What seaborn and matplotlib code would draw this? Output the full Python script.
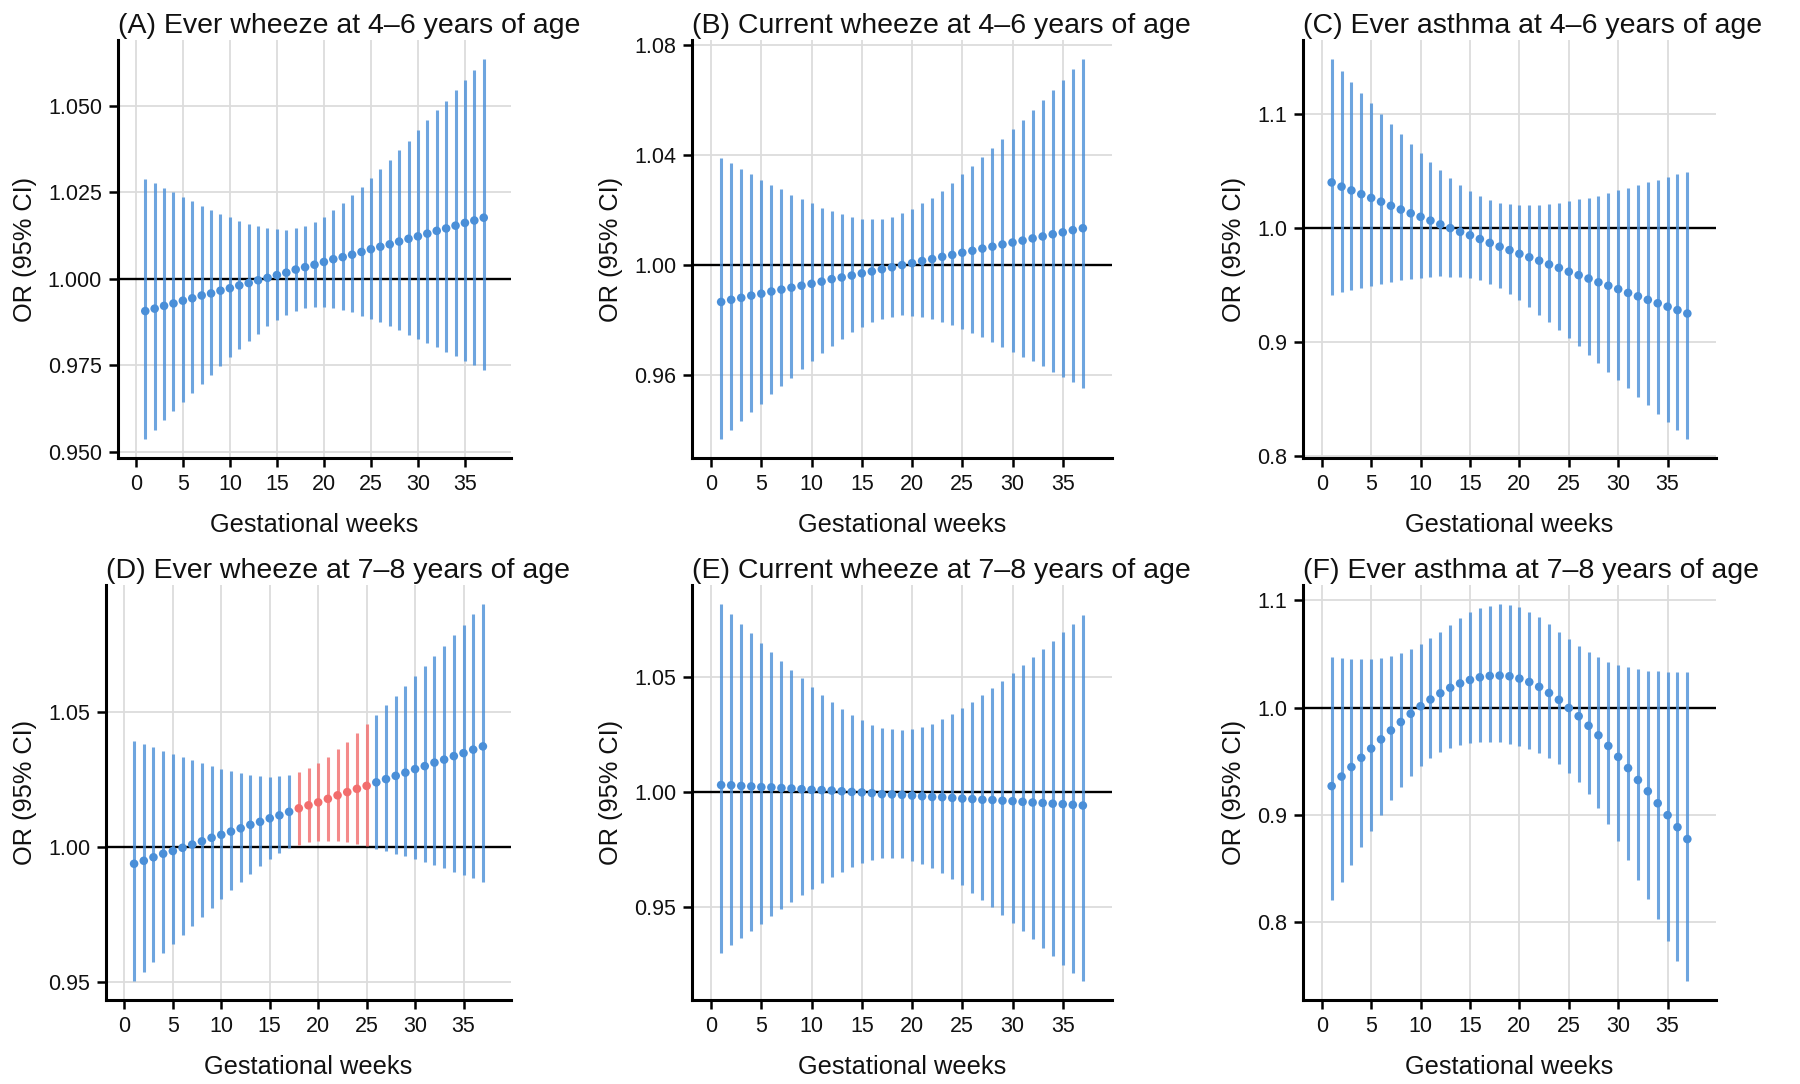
import numpy as np
import pandas as pd
import matplotlib
matplotlib.use("Agg")
import matplotlib.pyplot as plt
import seaborn as sns

weeks = list(range(1, 38))

# (A) Ever wheeze at 4-6 years
a_or = [0.9907, 0.9914, 0.9922, 0.9929, 0.9937, 0.9944, 0.9952, 0.9958, 0.9966, 0.9973,
        0.9981, 0.9988, 0.9996, 1.0003, 1.0011, 1.0018, 1.0027, 1.0034, 1.0041, 1.0049,
        1.0057, 1.0063, 1.0070, 1.0078, 1.0086, 1.0093, 1.0100, 1.0108, 1.0116, 1.0123,
        1.0131, 1.0139, 1.0146, 1.0154, 1.0162, 1.0169, 1.0177]
a_hi = [1.0289, 1.0277, 1.0263, 1.0250, 1.0237, 1.0224, 1.0212, 1.0200, 1.0189, 1.0178,
        1.0168, 1.0160, 1.0152, 1.0147, 1.0143, 1.0142, 1.0146, 1.0153, 1.0165, 1.0180,
        1.0198, 1.0219, 1.0242, 1.0266, 1.0292, 1.0317, 1.0345, 1.0372, 1.0400, 1.0430,
        1.0459, 1.0488, 1.0515, 1.0545, 1.0574, 1.0605, 1.0636]
a_lo = [0.9537, 0.9564, 0.9591, 0.9618, 0.9644, 0.9670, 0.9697, 0.9723, 0.9748, 0.9773,
        0.9798, 0.9820, 0.9842, 0.9863, 0.9881, 0.9896, 0.9908, 0.9915, 0.9918, 0.9918,
        0.9915, 0.9910, 0.9903, 0.9894, 0.9885, 0.9874, 0.9863, 0.9851, 0.9839, 0.9827,
        0.9815, 0.9802, 0.9789, 0.9776, 0.9763, 0.9751, 0.9738]

# (B) Current wheeze at 4-6 years
b_or = [0.9865, 0.9873, 0.9880, 0.9888, 0.9895, 0.9903, 0.9910, 0.9917, 0.9924, 0.9931,
        0.9939, 0.9948, 0.9954, 0.9961, 0.9969, 0.9976, 0.9984, 0.9991, 0.9999, 1.0006,
        1.0014, 1.0021, 1.0029, 1.0036, 1.0044, 1.0051, 1.0059, 1.0066, 1.0074, 1.0081,
        1.0088, 1.0096, 1.0103, 1.0111, 1.0118, 1.0126, 1.0133]
b_hi = [1.0389, 1.0369, 1.0349, 1.0330, 1.0310, 1.0291, 1.0274, 1.0255, 1.0238, 1.0223,
        1.0208, 1.0194, 1.0184, 1.0174, 1.0168, 1.0166, 1.0167, 1.0173, 1.0187, 1.0202,
        1.0223, 1.0244, 1.0270, 1.0299, 1.0329, 1.0359, 1.0391, 1.0424, 1.0459, 1.0493,
        1.0528, 1.0563, 1.0598, 1.0636, 1.0673, 1.0710, 1.0748]
b_lo = [0.9367, 0.9401, 0.9432, 0.9464, 0.9496, 0.9529, 0.9559, 0.9590, 0.9620, 0.9650,
        0.9678, 0.9705, 0.9731, 0.9756, 0.9775, 0.9791, 0.9803, 0.9812, 0.9816, 0.9815,
        0.9810, 0.9803, 0.9792, 0.9781, 0.9767, 0.9752, 0.9736, 0.9720, 0.9703, 0.9684,
        0.9666, 0.9649, 0.9631, 0.9611, 0.9593, 0.9573, 0.9554]

# (C) Ever asthma at 4-6 years
c_or = [1.0401, 1.0364, 1.0331, 1.0298, 1.0265, 1.0232, 1.0196, 1.0163, 1.0130, 1.0099,
        1.0066, 1.0033, 1.0000, 0.9967, 0.9937, 0.9904, 0.9870, 0.9837, 0.9807, 0.9774,
        0.9744, 0.9714, 0.9681, 0.9651, 0.9617, 0.9587, 0.9557, 0.9524, 0.9494, 0.9464,
        0.9431, 0.9401, 0.9370, 0.9340, 0.9310, 0.9280, 0.9250]
c_hi = [1.1485, 1.1383, 1.1283, 1.1190, 1.1096, 1.1003, 1.0913, 1.0825, 1.0741, 1.0657,
        1.0578, 1.0506, 1.0437, 1.0377, 1.0325, 1.0280, 1.0247, 1.0223, 1.0208, 1.0202,
        1.0199, 1.0202, 1.0211, 1.0223, 1.0238, 1.0253, 1.0268, 1.0286, 1.0310, 1.0331,
        1.0355, 1.0380, 1.0401, 1.0422, 1.0449, 1.0473, 1.0494]
c_lo = [0.9413, 0.9437, 0.9455, 0.9476, 0.9491, 0.9509, 0.9524, 0.9542, 0.9557, 0.9566,
        0.9575, 0.9578, 0.9575, 0.9572, 0.9560, 0.9542, 0.9506, 0.9470, 0.9422, 0.9367,
        0.9307, 0.9241, 0.9175, 0.9105, 0.9036, 0.8964, 0.8889, 0.8813, 0.8738, 0.8663,
        0.8593, 0.8518, 0.8443, 0.8370, 0.8295, 0.8223, 0.8148]

# (D) Ever wheeze at 7-8 years
d_or = [0.9938, 0.9949, 0.9962, 0.9975, 0.9985, 0.9997, 1.0009, 1.0021, 1.0034, 1.0045,
        1.0057, 1.0069, 1.0082, 1.0093, 1.0106, 1.0117, 1.0130, 1.0143, 1.0154, 1.0165,
        1.0178, 1.0191, 1.0203, 1.0215, 1.0226, 1.0239, 1.0251, 1.0263, 1.0275, 1.0288,
        1.0299, 1.0312, 1.0323, 1.0336, 1.0347, 1.0360, 1.0372]
d_hi = [1.0391, 1.0381, 1.0369, 1.0356, 1.0345, 1.0332, 1.0321, 1.0311, 1.0301, 1.0290,
        1.0282, 1.0274, 1.0268, 1.0263, 1.0260, 1.0261, 1.0268, 1.0278, 1.0292, 1.0311,
        1.0333, 1.0361, 1.0390, 1.0423, 1.0455, 1.0489, 1.0524, 1.0559, 1.0596, 1.0633,
        1.0670, 1.0707, 1.0745, 1.0783, 1.0821, 1.0860, 1.0899]
d_lo = [0.9504, 0.9539, 0.9574, 0.9608, 0.9640, 0.9674, 0.9707, 0.9741, 0.9774, 0.9807,
        0.9840, 0.9870, 0.9899, 0.9928, 0.9955, 0.9977, 0.9995, 1.0009, 1.0018, 1.0023,
        1.0024, 1.0021, 1.0018, 1.0011, 1.0003, 0.9994, 0.9985, 0.9975, 0.9965, 0.9955,
        0.9943, 0.9933, 0.9922, 0.9909, 0.9896, 0.9885, 0.9871]

# (E) Current wheeze at 7-8 years
e_or = [1.0031, 1.0030, 1.0027, 1.0025, 1.0022, 1.0021, 1.0018, 1.0016, 1.0013, 1.0010,
        1.0009, 1.0007, 1.0004, 1.0001, 0.9999, 0.9996, 0.9991, 0.9990, 0.9988, 0.9985,
        0.9982, 0.9979, 0.9978, 0.9975, 0.9972, 0.9970, 0.9967, 0.9966, 0.9963, 0.9961,
        0.9958, 0.9955, 0.9953, 0.9950, 0.9948, 0.9945, 0.9942]
e_hi = [1.0818, 1.0776, 1.0731, 1.0690, 1.0650, 1.0610, 1.0571, 1.0531, 1.0494, 1.0457,
        1.0423, 1.0392, 1.0362, 1.0335, 1.0312, 1.0292, 1.0280, 1.0273, 1.0272, 1.0274,
        1.0285, 1.0298, 1.0316, 1.0340, 1.0365, 1.0392, 1.0421, 1.0453, 1.0484, 1.0519,
        1.0552, 1.0588, 1.0623, 1.0657, 1.0694, 1.0731, 1.0769]
e_lo = [0.9303, 0.9334, 0.9367, 0.9398, 0.9429, 0.9462, 0.9491, 0.9522, 0.9552, 0.9580,
        0.9605, 0.9632, 0.9654, 0.9675, 0.9691, 0.9705, 0.9712, 0.9715, 0.9712, 0.9703,
        0.9690, 0.9671, 0.9648, 0.9622, 0.9595, 0.9564, 0.9533, 0.9500, 0.9466, 0.9432,
        0.9396, 0.9361, 0.9325, 0.9288, 0.9251, 0.9214, 0.9179]

# (F) Ever asthma at 7-8 years
f_or = [0.9268, 0.9357, 0.9446, 0.9532, 0.9618, 0.9704, 0.9787, 0.9866, 0.9943, 1.0013,
        1.0076, 1.0134, 1.0185, 1.0226, 1.0258, 1.0283, 1.0296, 1.0299, 1.0293, 1.0271,
        1.0239, 1.0194, 1.0137, 1.0073, 0.9997, 0.9920, 0.9831, 0.9742, 0.9643, 0.9541,
        0.9436, 0.9325, 0.9220, 0.9108, 0.8997, 0.8885, 0.8774]
f_hi = [1.0471, 1.0462, 1.0455, 1.0455, 1.0455, 1.0465, 1.0481, 1.0510, 1.0548, 1.0596,
        1.0650, 1.0710, 1.0771, 1.0838, 1.0889, 1.0927, 1.0952, 1.0968, 1.0959, 1.0940,
        1.0895, 1.0844, 1.0777, 1.0707, 1.0637, 1.0573, 1.0519, 1.0468, 1.0427, 1.0398,
        1.0376, 1.0357, 1.0344, 1.0338, 1.0334, 1.0334, 1.0334]
f_lo = [0.8204, 0.8373, 0.8532, 0.8697, 0.8847, 0.9000, 0.9140, 0.9261, 0.9366, 0.9459,
        0.9529, 0.9586, 0.9624, 0.9653, 0.9672, 0.9678, 0.9678, 0.9675, 0.9662, 0.9643,
        0.9615, 0.9580, 0.9532, 0.9471, 0.9395, 0.9306, 0.9197, 0.9064, 0.8914, 0.8752,
        0.8583, 0.8395, 0.8213, 0.8025, 0.7828, 0.7637, 0.7449]

titles = ["(A) Ever wheeze at 4\u20136 years of age",
          "(B) Current wheeze at 4\u20136 years of age",
          "(C) Ever asthma at 4\u20136 years of age",
          "(D) Ever wheeze at 7\u20138 years of age",
          "(E) Current wheeze at 7\u20138 years of age",
          "(F) Ever asthma at 7\u20138 years of age"]
yticks = [[0.950, 0.975, 1.000, 1.025, 1.050],
          [0.96, 1.00, 1.04, 1.08],
          [0.8, 0.9, 1.0, 1.1],
          [0.95, 1.00, 1.05],
          [0.95, 1.00, 1.05],
          [0.8, 0.9, 1.0, 1.1]]
yfmt = ["{:.3f}", "{:.2f}", "{:.1f}", "{:.2f}", "{:.2f}", "{:.1f}"]
xticks = [0, 5, 10, 15, 20, 25, 30, 35]

panels = [(a_or, a_lo, a_hi), (b_or, b_lo, b_hi), (c_or, c_lo, c_hi),
          (d_or, d_lo, d_hi), (e_or, e_lo, e_hi), (f_or, f_lo, f_hi)]

sns.set_theme(style="white")
plt.rcParams['font.family'] = ['Liberation Sans', 'DejaVu Sans']

W, H = 1800, 1084
fig = plt.figure(figsize=(W / 100, H / 100), dpi=100)
fig.patch.set_facecolor("white")

# axes boxes in pixels: left, right, top, bottom
boxes = [(118, 511, 40, 458), (692, 1112, 40, 458), (1303, 1716, 40, 458),
         (106, 511, 585, 1000), (692, 1112, 585, 1000), (1303, 1716, 585, 1000)]

BLUE = "#4a8fd8"
RED = "#f26d6d"

for i, ((orv, lo, hi), box) in enumerate(zip(panels, boxes)):
    l, r, t, b = box
    ax = fig.add_axes([l / W, 1 - b / H, (r - l) / W, (b - t) / H])
    df = pd.DataFrame({"week": weeks, "or": orv, "lo": lo, "hi": hi})
    df["sig"] = np.where(df["lo"] > 1.0, "sig", "ns")
    pal = {"ns": BLUE, "sig": RED}

    ax.grid(True, color="#dcdcdc", linewidth=1.3, zorder=0)
    ax.set_axisbelow(True)
    ax.axhline(1.0, color="black", linewidth=1.7, zorder=2)
    for key, col in pal.items():
        sub = df[df["sig"] == key]
        ax.vlines(sub["week"], sub["lo"], sub["hi"], color=col, alpha=0.8,
                  linewidth=2.2, zorder=3)
    sns.scatterplot(data=df, x="week", y="or", hue="sig", palette=pal, s=38,
                    edgecolor="none", legend=False, ax=ax, zorder=4)

    ymin = min(lo); ymax = max(hi)
    pad = 0.05 * (ymax - ymin)
    ax.set_ylim(ymin - pad, ymax + pad)
    ax.set_xlim(0 - 0.05 * 38, 38 + 0.05 * 38)
    ax.set_xticks(xticks)
    ax.set_xticklabels([str(x) for x in xticks])
    ax.set_yticks(yticks[i])
    ax.set_yticklabels([yfmt[i].format(v) for v in yticks[i]])

    for s in ["top", "right"]:
        ax.spines[s].set_visible(False)
    for s in ["left", "bottom"]:
        ax.spines[s].set_color("black")
        ax.spines[s].set_linewidth(2.2)
    ax.tick_params(axis="both", which="both", direction="out", length=6.5, width=1.8,
                   color="black", labelsize=15.5, labelcolor="#111111", pad=5,
                   left=True, bottom=True)
    ax.set_xlabel("Gestational weeks", fontsize=18.3, labelpad=13, color="#111111")
    ax.set_ylabel("OR (95% CI)", fontsize=18.3, labelpad=8, color="#111111")
    ax.set_title(titles[i], loc="left", fontsize=20.5, pad=5, color="#111111")

fig.savefig("out.png", dpi=100, facecolor="white")
